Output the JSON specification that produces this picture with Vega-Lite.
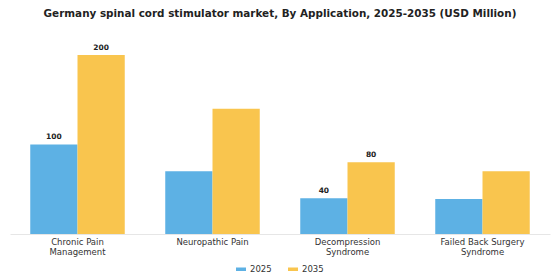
{
  "$schema": "https://vega.github.io/schema/vega-lite/v6.json",
  "width": 540,
  "height": 197,
  "padding": {"left": 10, "right": 10, "top": 8, "bottom": 5},
  "background": "white",
  "title": {
    "text": "Germany spinal cord stimulator market, By Application, 2025-2035 (USD Million)",
    "font": "DejaVu Sans",
    "fontSize": 10.4,
    "fontWeight": "bold",
    "color": "#222222",
    "anchor": "middle",
    "offset": 18
  },
  "config": {
    "view": {"stroke": null},
    "font": "DejaVu Sans"
  },
  "data": {
    "values": [
      {"application": "Chronic Pain Management", "year": "2025", "value": 100, "label": "100"},
      {"application": "Chronic Pain Management", "year": "2035", "value": 200, "label": "200"},
      {"application": "Neuropathic Pain", "year": "2025", "value": 70, "label": ""},
      {"application": "Neuropathic Pain", "year": "2035", "value": 140, "label": ""},
      {"application": "Decompression Syndrome", "year": "2025", "value": 40, "label": "40"},
      {"application": "Decompression Syndrome", "year": "2035", "value": 80, "label": "80"},
      {"application": "Failed Back Surgery Syndrome", "year": "2025", "value": 39, "label": ""},
      {"application": "Failed Back Surgery Syndrome", "year": "2035", "value": 70, "label": ""}
    ]
  },
  "encoding": {
    "x": {
      "field": "application",
      "type": "nominal",
      "sort": null,
      "title": null,
      "scale": {"paddingInner": 0.3, "paddingOuter": 0.15},
      "axis": {
        "labelAngle": 0,
        "labelFontSize": 8.5,
        "labelColor": "#333333",
        "labelPadding": 3,
        "labelLineHeight": 10,
        "ticks": false,
        "domainColor": "#e6e6e6",
        "domainWidth": 1,
        "labelExpr": "datum.label == 'Chronic Pain Management' ? ['Chronic Pain', 'Management'] : datum.label == 'Decompression Syndrome' ? ['Decompression', 'Syndrome'] : datum.label == 'Failed Back Surgery Syndrome' ? ['Failed Back Surgery', 'Syndrome'] : datum.label"
      }
    },
    "xOffset": {"field": "year", "type": "nominal", "scale": {"paddingInner": 0, "paddingOuter": 0}},
    "y": {
      "field": "value",
      "type": "quantitative",
      "scale": {"domain": [0, 220]},
      "axis": null
    }
  },
  "layer": [
    {
      "mark": {"type": "bar"},
      "encoding": {
        "color": {
          "field": "year",
          "type": "nominal",
          "scale": {"domain": ["2025", "2035"], "range": ["#5DB1E4", "#F9C54E"]},
          "legend": {
            "title": null,
            "orient": "none",
            "legendX": 226,
            "legendY": 227,
            "direction": "horizontal",
            "symbolType": "M-1,-0.35H1V0.35H-1Z",
            "symbolSize": 100,
            "symbolStrokeWidth": 0,
            "labelFontSize": 8.5,
            "labelColor": "#333333",
            "columnPadding": 16
          }
        }
      }
    },
    {
      "mark": {"type": "text", "dy": -7, "fontSize": 7.5, "fontWeight": "bold", "color": "#222222"},
      "encoding": {"text": {"field": "label"}}
    }
  ]
}
